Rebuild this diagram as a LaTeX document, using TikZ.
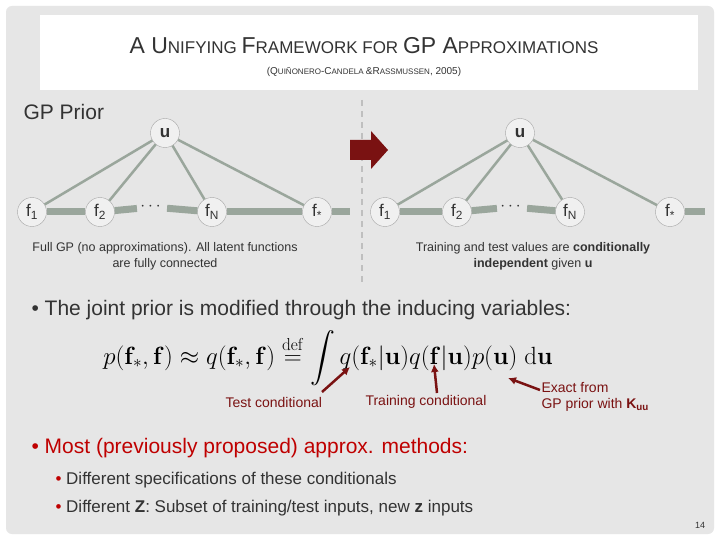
\documentclass[tikz,border=0pt]{standalone}
\usepackage{amsmath}
\usepackage[no-math]{fontspec}
\setmainfont{Liberation Sans}
\usetikzlibrary{arrows.meta}
\definecolor{bg}{HTML}{E6E6E6}
\definecolor{edge}{HTML}{9AA69C}
\definecolor{dred}{HTML}{7A1212}
\definecolor{txt}{HTML}{333333}
\tikzset{
 vnode/.style={circle,draw=gray!70,fill=bg!60!white,minimum size=29pt,inner sep=0pt,font=\fontsize{17}{17}\selectfont,text=txt},
 ulink/.style={edge,line width=2.5pt},
 bar/.style={edge,line width=7pt},
 lab/.style={font=\fontsize{12.5}{16}\selectfont,text=txt,align=center},
 redlab/.style={font=\fontsize{14}{16}\selectfont,text=dred,align=left},
 redarr/.style={dred,line width=2.5pt,-{Latex[length=8pt,width=8pt]}},
 dots/.style={text=txt,font=\fontsize{17}{17}\selectfont},
}
\begin{document}
\begin{tikzpicture}[x=1pt,y=-1pt]
\useasboundingbox (0,0) rectangle (720,540);
\fill[white] (0,0) rectangle (720,540);
\fill[bg,rounded corners=6pt] (6,6) rectangle (714,534);
\fill[white] (40,15) rectangle (698,90);
\node (title) at (364,46) {\fontsize{23}{23}\selectfont\color{txt}A U\fontsize{17}{17}\selectfont NIFYING \fontsize{23}{23}\selectfont F\fontsize{17}{17}\selectfont RAMEWORK FOR \fontsize{23}{23}\selectfont GP A\fontsize{17}{17}\selectfont PPROXIMATIONS};
\node (sub) at (364,72) {\fontsize{10}{10}\selectfont\color{txt}(Q\fontsize{8}{8}\selectfont UIÑONERO\fontsize{10}{10}\selectfont-C\fontsize{8}{8}\selectfont ANDELA \fontsize{10}{10}\selectfont\&R\fontsize{8}{8}\selectfont ASSMUSSEN\fontsize{10}{10}\selectfont, 2005)};
\node[anchor=west,font=\fontsize{21}{21}\selectfont,text=txt] (gpp) at (20,112) {GP Prior};
% separator
\draw[gray!50,line width=1.5pt,dash pattern=on 6pt off 5pt] (362,100) -- (362,285);
\fill[dred] (350,140) -- (371,140) -- (371,131) -- (388,150) -- (371,169) -- (371,160) -- (350,160) -- cycle;
% left graph
\coordinate (le) at (350,212);
\node[vnode] (u1) at (165,133) {\textbf{u}};
\node[vnode] (a1) at (32,212) {f\textsubscript{1}};
\node[vnode] (a2) at (100,212) {f\textsubscript{2}};
\node[dots] (ad) at (152,207) {$\cdots$};
\node[vnode] (aN) at (212,212) {f\textsubscript{N}};
\node[vnode] (as) at (317,212) {f\textsubscript{*}};
\draw[bar] (a1) -- (a2); \draw[bar] (a2) -- (ad); \draw[bar] (ad) -- (aN); \draw[bar] (aN) -- (as); \draw[bar] (as) -- (le);
\foreach \n in {a1,a2,aN,as} \draw[ulink] (u1) -- (\n);
% right graph
\coordinate (re) at (705,212);
\node[vnode] (u2) at (520,133) {\textbf{u}};
\node[vnode] (b1) at (385,212) {f\textsubscript{1}};
\node[vnode] (b2) at (457,212) {f\textsubscript{2}};
\node[dots] (bd) at (512,207) {$\cdots$};
\node[vnode] (bN) at (570,212) {f\textsubscript{N}};
\node[vnode] (bs) at (670,212) {f\textsubscript{*}};
\draw[bar] (b1) -- (b2); \draw[bar] (b2) -- (bd); \draw[bar] (bd) -- (bN); \draw[bar] (bs) -- (re);
\foreach \n in {b1,b2,bN,bs} \draw[ulink] (u2) -- (\n);
\node[lab] (capl) at (165,256) {Full GP (no approximations). All latent functions\\are fully connected};
\node[lab] (capr) at (533,256) {Training and test values are \textbf{conditionally}\\\textbf{independent} given \textbf{u}};
% bullets
\node[anchor=west,font=\fontsize{21}{21}\selectfont,text=txt] (b1t) at (28,310) {\textbullet\ The joint prior is modified through the inducing variables:};
\node[font=\fontsize{24}{24}\selectfont] (eq) at (328,358) {$p(\mathbf{f}_*,\mathbf{f})\approx q(\mathbf{f}_*,\mathbf{f})\overset{\mathrm{def}}{=}\displaystyle\int q(\mathbf{f}_*|\mathbf{u})q(\mathbf{f}|\mathbf{u})p(\mathbf{u})\;\mathrm{d}\mathbf{u}$};
\node[redlab,anchor=west] (tc) at (222,402) {Test conditional};
\node[redlab,anchor=west] (trc) at (362,402) {Training conditional};
\node[redlab,anchor=west] (ex) at (538,397) {Exact from\\GP prior with \textbf{K}$_{\textbf{uu}}$};
\coordinate (t1) at (350,367);
\coordinate (t2) at (434,364);
\coordinate (t3) at (508,378);
\draw[redarr] (322,392) -- (t1);
\draw[redarr] (437,393) -- (t2);
\draw[redarr] (540,390) -- (t3);
\node[anchor=west,font=\fontsize{21}{21}\selectfont,text=red!75!black] (b2t) at (28,448) {\textbullet\ Most (previously proposed) approx. methods:};
\node[anchor=west,font=\fontsize{17}{17}\selectfont,text=txt] (s1) at (52,480) {\textcolor{red!75!black}{\textbullet}\ Different specifications of these conditionals};
\node[anchor=west,font=\fontsize{17}{17}\selectfont,text=txt] (s2) at (52,508) {\textcolor{red!75!black}{\textbullet}\ Different \textbf{Z}: Subset of training/test inputs, new \textbf{z} inputs};
\node[font=\fontsize{9}{9}\selectfont,text=txt] (pg) at (700,525) {14};
\end{tikzpicture}
\end{document}
